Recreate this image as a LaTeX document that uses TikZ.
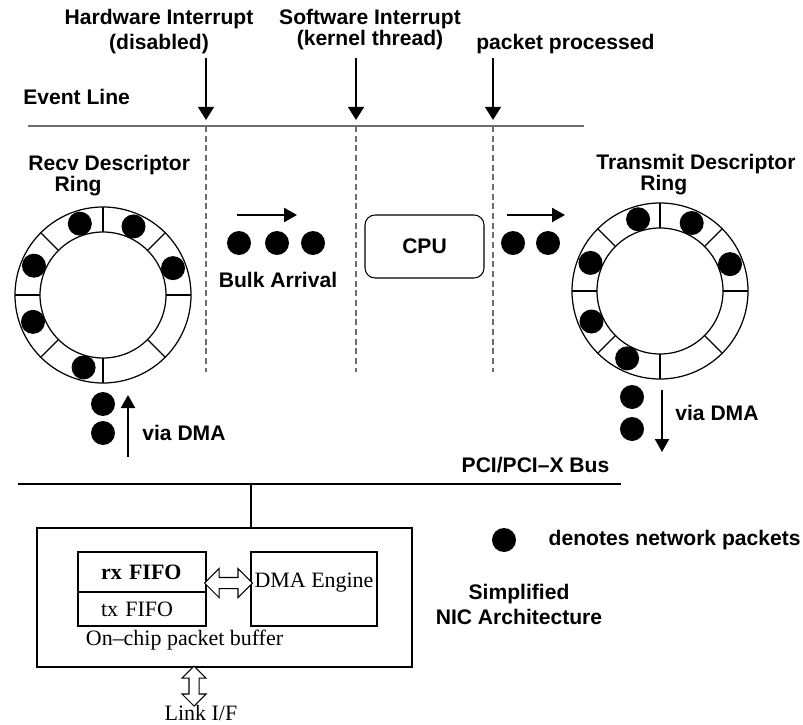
\documentclass[tikz,border=0pt]{standalone}
\usepackage{fontspec}
\setmainfont{Liberation Serif}
\setsansfont{Liberation Sans}
\usetikzlibrary{%
        arrows.meta,
        calc,
        positioning,
        shapes.arrows
    }
\definecolor{eventgray}{RGB}{110, 110, 110}

\tikzset{
    caption/.style={font=\sffamily\bfseries\fontsize{12}{12}\selectfont, inner sep=0pt},
    nictext/.style={font=\rmfamily\fontsize{12.5}{14}\selectfont, inner sep=0pt},
    packet/.style={circle, fill=black, inner sep=0pt, minimum size=0.48cm},
    event/.style={-{Triangle[length=7.5pt, width=9pt]}, line width=1.4pt},
    flow/.style={-{Triangle[length=7.4pt, width=8pt]}, line width=1.2pt},
    marker/.style={eventgray, dash pattern=on 3.5pt off 2pt, line width=0.6pt},
    wide arrow/.style={double arrow, draw, fill=white, inner sep=0pt, line width=0.6pt}
}

\begin{document}
\begin{tikzpicture}[x=0.02cm, y=0.02cm]
    \useasboundingbox (0, 0) rectangle (803, 724);

    % event line with the three events
    \coordinate (event west) at (28, 598);
    \coordinate (event east) at (584, 598);
    \draw[eventgray, line width=1.1pt] (event west) -- (event east);
    \node[caption, anchor=west] (event label) at (23, 627) {Event Line};

    \node[caption, align=center] (hw label) at (159, 692)
        {Hardware Interrupt\\[2.2pt](disabled)};
    \node[caption, align=center] (sw label) at (370, 694)
        {Software Interrupt\\[0pt](kernel thread)};
    \node[caption, anchor=west] (done label) at (476, 680) {packet processed};

    \foreach \ev/\x in {hw/206, sw/356, done/493} {%
        \coordinate (\ev top) at (\x, 666);
        \coordinate (\ev tip) at (\x, 604);
        \coordinate (\ev low) at (\x, 352);
        \draw[event] (\ev top) -- (\ev tip);
        \draw[marker] (\ev tip |- event west) -- (\ev low);
    };

    % descriptor rings
    \coordinate (recv) at (103, 429);
    \coordinate (xmit) at (660, 433);
    \foreach \ring in {recv, xmit} {%
        \draw[line width=0.7pt] (\ring) circle (88) (\ring) circle (63);
        \foreach \a in {0, 45, ..., 315}
            \draw[line width=0.7pt] ($(\ring)+(\a:63)$) -- ($(\ring)+(\a:88)$);
    };
    \foreach \a [count=\i] in {108, 66, 21, 157, 201, 255}
        \node[packet] (recv pkt\i) at ($(recv)+(\a:75)$) {};
    \foreach \a [count=\i] in {107, 65, 21, 158, 204, 244}
        \node[packet] (xmit pkt\i) at ($(xmit)+(\a:75)$) {};

    \node[caption, align=left, anchor=west] (recv label) at (28, 548.5)
        {Recv Descriptor\\\hspace*{15pt}Ring};
    \node[caption, align=left, anchor=west] (xmit label) at (596, 549)
        {Transmit Descriptor\\\hspace*{25pt}Ring};

    % packets on their way
    \foreach \x [count=\i] in {239, 277, 313}
        \node[packet] (bulk\i) at (\x, 481) {};
    \node[caption] (bulk label) at (278, 444) {Bulk Arrival};
    \coordinate (bulk from) at (237, 509);
    \coordinate (bulk to) at (297, 509);
    \draw[flow] (bulk from) -- (bulk to);

    \node[caption, draw, rounded corners=0.2cm, minimum width=2.38cm,
        minimum height=1.26cm, line width=0.6pt] (cpu) at (424.5, 477.5) {CPU};

    \foreach \x [count=\i] in {513, 548}
        \node[packet] (out\i) at (\x, 481) {};
    \coordinate (out from) at (507, 509);
    \coordinate (out to) at (565, 509);
    \draw[flow] (out from) -- (out to);

    % via DMA
    \node[packet] (rx pkt1) at (103, 320) {};
    \node[packet] (rx pkt2) at (103, 291) {};
    \coordinate (rx from) at (128, 267);
    \coordinate (rx to) at (128, 329);
    \draw[flow] (rx from) -- (rx to);
    \node[caption, anchor=west] (rx label) at (142, 291) {via DMA};

    \node[packet] (tx pkt1) at (632, 327) {};
    \node[packet] (tx pkt2) at (632, 295) {};
    \coordinate (tx from) at (662, 334);
    \coordinate (tx to) at (662, 272);
    \draw[flow] (tx from) -- (tx to);
    \node[caption, anchor=west] (tx label) at (675, 311) {via DMA};

    % bus and NIC
    \coordinate (bus west) at (18, 240);
    \coordinate (bus east) at (621, 240);
    \coordinate (bus tap) at (251, 240);
    \draw[line width=1.4pt] (bus west) -- (bus east);
    \node[caption] (bus label) at (535.5, 259) {PCI/PCI--X Bus};

    \node[draw, line width=0.8pt, minimum width=7.5cm, minimum height=2.78cm]
        (nic) at (224.5, 126.5) {};
    \draw[line width=0.8pt] (bus tap) -- (bus tap |- nic.north);

    \node[nictext, font=\rmfamily\bfseries\fontsize{12.5}{14}\selectfont, draw,
        line width=0.8pt, minimum width=2.56cm, minimum height=0.8cm,
        inner xsep=0.46cm, text width=1.64cm, align=left] (rx fifo) at (142, 152) {rx FIFO};
    \node[nictext, draw, line width=0.8pt, minimum width=2.56cm, minimum height=0.68cm,
        inner xsep=0.46cm, text width=1.64cm, align=left] (tx fifo) at (142, 115) {tx FIFO};
    \node[draw, line width=0.8pt, minimum width=2.52cm, minimum height=1.48cm]
        (dma) at (314, 135) {};
    \node[nictext] (dma label) at ([yshift=0.12cm]dma.center) {DMA Engine};

    \node[wide arrow, minimum height=0.96cm, inner ysep=0.1cm,
        double arrow head extend=0.18cm] (fifo dma) at (228.5, 141) {};
    \node[nictext] (buffer label) at (184.5, 84) {On--chip packet buffer};

    \node[wide arrow, rotate=90, minimum height=0.8cm, inner ysep=0.09cm,
        double arrow head extend=0.14cm] (link) at (194, 38) {};
    \node[nictext] (link label) at (201, 11) {Link I/F};

    % legend
    \node[packet] (legend dot) at (504, 184) {};
    \node[caption, right=0.64cm of legend dot] (legend label) {denotes network packets};
    \node[caption, align=center] (nic label) at (519, 119.5)
        {Simplified\\[2.2pt]NIC Architecture};

\end{tikzpicture}
\end{document}
